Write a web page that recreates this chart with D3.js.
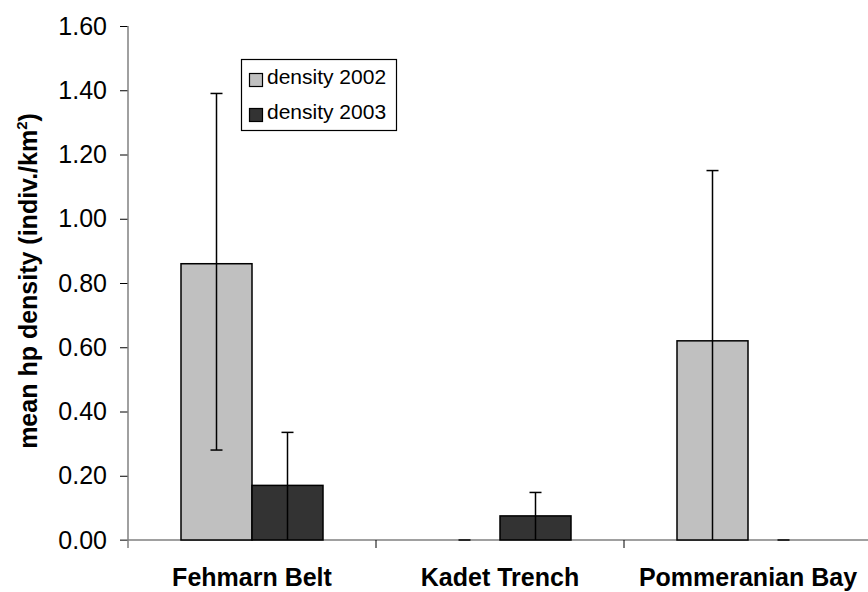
<!DOCTYPE html>
<html>
<head>
<meta charset="utf-8">
<script src="https://cdn.jsdelivr.net/npm/d3@7"></script>
<style>
  html, body { margin: 0; padding: 0; background: #fff; }
  svg { display: block; font-family: Arial, "Liberation Sans", Helvetica, sans-serif; }
</style>
</head>
<body>
<svg id="chart" width="868" height="592"></svg>
<script>
// ---- data ----
const categories = ["Fehmarn Belt", "Kadet Trench", "Pommeranian Bay"];
const seriesNames = ["density 2002", "density 2003"];
const density2002 = [0.86, 0, 0.62];
const density2003 = [0.17, 0.075, 0];
const errHigh2002 = [1.39, 0, 1.15];
const errLow2002 = [0.28, 0, 0];
const errHigh2003 = [0.335, 0.148, 0];
const errLow2003 = [0, 0, 0];
const yTickValues = [0, 0.2, 0.4, 0.6, 0.8, 1.0, 1.2, 1.4, 1.6];

// ---- layout ----
const svg = d3.select("#chart");
const plotLeft = 128, plotRight = 872, plotTop = 26, plotBottom = 540;
const barW = 71;
const colors = ["#c0c0c0", "#333333"];

const x = d3.scaleBand().domain(categories).range([plotLeft, plotRight]).padding(0);
const xSub = d3.scaleBand().domain(seriesNames)
  .range([x.bandwidth() / 2 - barW, x.bandwidth() / 2 + barW]);
const y = d3.scaleLinear().domain([0, 1.6]).range([plotBottom, plotTop]);

const rows = [];
categories.forEach((c, i) => {
  rows.push({ cat: c, s: seriesNames[0], v: density2002[i], hi: errHigh2002[i], lo: errLow2002[i], col: colors[0] });
  rows.push({ cat: c, s: seriesNames[1], v: density2003[i], hi: errHigh2003[i], lo: errLow2003[i], col: colors[1] });
});

// axes
const yAxis = d3.axisLeft(y).tickValues(yTickValues).tickFormat(d3.format(".2f"))
  .tickSize(8).tickPadding(13);
const gy = svg.append("g").attr("transform", `translate(${plotLeft},0)`).call(yAxis);
gy.select(".domain").remove();
gy.selectAll(".tick line").attr("stroke", "#000").attr("stroke-width", 1);
gy.selectAll(".tick text").attr("font-size", 25).attr("fill", "#000")
  .attr("font-family", "Arial, 'Liberation Sans', sans-serif");

// y axis line (extends below x axis)
svg.append("line").attr("x1", plotLeft).attr("x2", plotLeft).attr("y1", plotTop).attr("y2", plotBottom + 8)
  .attr("stroke", "#808080").attr("stroke-width", 1.5);
// x axis line
svg.append("line").attr("x1", plotLeft - 8).attr("x2", plotRight).attr("y1", plotBottom).attr("y2", plotBottom)
  .attr("stroke", "#808080").attr("stroke-width", 1.5);
// category separator ticks
categories.slice(1).forEach(c => {
  svg.append("line").attr("x1", x(c)).attr("x2", x(c)).attr("y1", plotBottom).attr("y2", plotBottom + 8)
    .attr("stroke", "#000").attr("stroke-width", 1);
});

// category labels
svg.append("g").selectAll("text").data(categories).join("text")
  .attr("x", d => x(d) + x.bandwidth() / 2)
  .attr("y", 586)
  .attr("text-anchor", "middle")
  .attr("font-weight", "bold")
  .attr("font-size", 25)
  .attr("fill", "#000")
  .text(d => d);

// bars
const nonZero = rows.filter(d => d.v > 0);
svg.append("g").selectAll("rect").data(nonZero).join("rect")
  .attr("x", d => x(d.cat) + xSub(d.s))
  .attr("y", d => y(d.v))
  .attr("width", xSub.bandwidth())
  .attr("height", d => y(0) - y(d.v))
  .attr("fill", d => d.col)
  .attr("stroke", "#000")
  .attr("stroke-width", 1.5);

// error bars
const capW = 12;
const eg = svg.append("g").attr("stroke", "#000").attr("stroke-width", 1.5);
rows.forEach(d => {
  const cx = x(d.cat) + xSub(d.s) + xSub.bandwidth() / 2;
  if (d.hi > d.lo) {
    eg.append("line").attr("x1", cx).attr("x2", cx).attr("y1", y(d.hi)).attr("y2", y(d.lo));
  }
  eg.append("line").attr("x1", cx - capW / 2).attr("x2", cx + capW / 2).attr("y1", y(d.hi)).attr("y2", y(d.hi));
  if (d.lo > 0) {
    eg.append("line").attr("x1", cx - capW / 2).attr("x2", cx + capW / 2).attr("y1", y(d.lo)).attr("y2", y(d.lo));
  }
});

// y axis title
const title = svg.append("text")
  .attr("transform", `translate(37,${(105 + 457) / 2}) rotate(-90)`)
  .attr("text-anchor", "middle")
  .attr("font-weight", "bold")
  .attr("font-size", 25)
  .attr("fill", "#000");
title.append("tspan").text("mean hp density (indiv./km");
title.append("tspan").attr("font-size", 15).attr("dy", -10).text("2");
title.append("tspan").attr("dy", 10).text(")");

// legend
const lg = svg.append("g");
lg.append("rect").attr("x", 241.5).attr("y", 59.5).attr("width", 155).attr("height", 71)
  .attr("fill", "#fff").attr("stroke", "#000").attr("stroke-width", 1.2);
seriesNames.forEach((s, i) => {
  const yy = 73.5 + i * 35;
  lg.append("rect").attr("x", 249.5).attr("y", yy).attr("width", 13).attr("height", 13)
    .attr("fill", colors[i]).attr("stroke", "#000").attr("stroke-width", 1.2);
  lg.append("text").attr("x", 267).attr("y", 83.5 + i * 35)
    .attr("font-size", 21).attr("fill", "#000").text(s);
});
</script>
</body>
</html>
